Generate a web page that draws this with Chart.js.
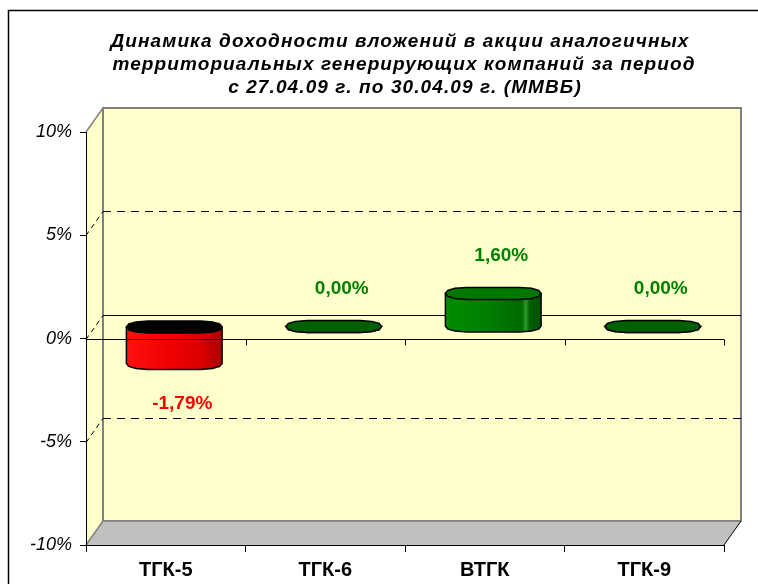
<!DOCTYPE html>
<html><head><meta charset="utf-8">
<script src="https://cdn.jsdelivr.net/npm/chart.js@4"></script>
<style>html,body{margin:0;padding:0;background:#fff}canvas{display:block}</style>
</head><body>
<canvas id="c" width="758" height="584"></canvas>
<script>
const titleLines = ['Динамика доходности вложений в акции аналогичных','территориальных генерирующих компаний за период','с 27.04.09 г. по 30.04.09 г. (ММВБ)'];
const categories = ['ТГК-5','ТГК-6','ВТГК','ТГК-9'];
const returns = [-1.79, 0.00, 1.60, 0.00];
const valueLabels = ['-1,79%','0,00%','1,60%','0,00%'];
const yTicks = [-10, -5, 0, 5, 10];
const yTickLabels = ['-10%','-5%','0%','5%','10%'];

const DX = 17, DY = 24;
const CAP = [[-1,0],[-0.95,-0.5],[-0.8,-0.85],[-0.55,-1],[0.55,-1],[0.8,-0.85],[0.95,-0.5],[1,0],[0.95,0.5],[0.8,0.85],[0.55,1],[-0.55,1],[-0.8,0.85],[-0.95,0.5]];
const LOWER = [[-1,0],[-0.95,0.5],[-0.8,0.85],[-0.55,1],[0.55,1],[0.8,0.85],[0.95,0.5],[1,0]];
const RY = 6;

function poly(ctx, pts){ctx.beginPath();pts.forEach((p,i)=>i?ctx.lineTo(p[0],p[1]):ctx.moveTo(p[0],p[1]));ctx.closePath();}

const walls = {
  id: 'walls',
  beforeDraw(chart){
    const {ctx, chartArea:a, scales:{y}} = chart;
    ctx.save();
    // outer frame
    ctx.strokeStyle = '#000'; ctx.lineWidth = 1.5;
    ctx.beginPath(); ctx.moveTo(8.5, 584); ctx.lineTo(8.5, 10.5); ctx.lineTo(758, 10.5); ctx.stroke();
    // title
    ctx.fillStyle = '#000';
    ctx.font = 'italic bold 19px Arial';
    ctx.textAlign = 'center'; ctx.textBaseline = 'alphabetic';
    try { ctx.letterSpacing = '1.1px'; } catch(e) {}
    const tb = [47, 70, 93], tx = [400, 404, 405];
    titleLines.forEach((t,i)=>ctx.fillText(t, tx[i], tb[i]));
    try { ctx.letterSpacing = '0px'; } catch(e) {}
    // side wall
    ctx.fillStyle = '#FFFFCC';
    poly(ctx, [[a.left,a.top],[a.left+DX,a.top-DY],[a.left+DX,a.bottom-DY],[a.left,a.bottom]]);
    ctx.fill();
    ctx.strokeStyle = '#808080'; ctx.lineWidth = 1.5;
    ctx.beginPath(); ctx.moveTo(a.left, a.top); ctx.lineTo(a.left+DX, a.top-DY); ctx.stroke();
    // back wall
    ctx.fillStyle = '#FFFFCC';
    ctx.fillRect(a.left+DX, a.top-DY, a.right-a.left, a.bottom-a.top);
    ctx.strokeStyle = '#808080'; ctx.lineWidth = 2;
    ctx.strokeRect(a.left+DX, a.top-DY, a.right-a.left, a.bottom-a.top);
    // floor
    ctx.fillStyle = '#C0C0C0';
    poly(ctx, [[a.left,a.bottom],[a.left+DX,a.bottom-DY],[a.right+DX,a.bottom-DY],[a.right,a.bottom]]);
    ctx.fill();
    ctx.strokeStyle = '#808080'; ctx.lineWidth = 1.5;
    ctx.beginPath(); ctx.moveTo(a.left, a.bottom); ctx.lineTo(a.left+DX, a.bottom-DY); ctx.lineTo(a.right+DX, a.bottom-DY); ctx.stroke();
    ctx.strokeStyle = '#000'; ctx.lineWidth = 1;
    ctx.beginPath(); ctx.moveTo(a.right, a.bottom); ctx.lineTo(a.right+DX, a.bottom-DY); ctx.stroke();
    // gridlines
    yTicks.forEach(t=>{
      if (t === y.min || t === y.max) return;
      const py = Math.round(y.getPixelForValue(t)) + 0.5;
      ctx.strokeStyle = '#000'; ctx.lineWidth = 1;
      ctx.setLineDash([5,4]);
      ctx.beginPath(); ctx.moveTo(a.left, py); ctx.lineTo(a.left+DX, py-DY); ctx.stroke();
      ctx.setLineDash(t === 0 ? [] : [8,6]);
      ctx.beginPath(); ctx.moveTo(a.left+DX, py-DY); ctx.lineTo(a.right+DX, py-DY); ctx.stroke();
      ctx.setLineDash([]);
    });
    ctx.restore();
  },
  afterDatasetsDraw(chart){
    const {ctx, chartArea:a, scales:{x, y}} = chart;
    const meta = chart.getDatasetMeta(0);
    ctx.save();
    meta.data.forEach((bar, i)=>{
      const v = returns[i];
      const cx = bar.x + DX/2, rx = bar.width/2, L = cx - rx, R = cx + rx;
      const yv = bar.y - DY/2, yb = bar.base - DY/2;
      const top = Math.min(yv, yb), bot = Math.max(yv, yb);
      const neg = v < 0;
      const g = ctx.createLinearGradient(L, 0, R, 0);
      if (neg) {
        g.addColorStop(0, '#ff1010'); g.addColorStop(0.45, '#f00000'); g.addColorStop(0.8, '#d80000'); g.addColorStop(1, '#a80000');
      } else {
        g.addColorStop(0, '#008c00'); g.addColorStop(0.45, '#007e00'); g.addColorStop(0.8, '#006800'); g.addColorStop(0.84, '#2a9a2a'); g.addColorStop(0.88, '#006000'); g.addColorStop(1, '#005000');
      }
      // body
      ctx.beginPath();
      ctx.moveTo(L, top);
      LOWER.forEach(p=>ctx.lineTo(cx+p[0]*rx, bot+p[1]*RY));
      ctx.lineTo(R, top); ctx.closePath();
      ctx.fillStyle = g; ctx.fill();
      ctx.strokeStyle = '#000'; ctx.lineWidth = 1.5; ctx.stroke();
      // cap
      poly(ctx, CAP.map(p=>[cx+p[0]*rx, top+p[1]*RY]));
      ctx.fillStyle = neg ? '#000000' : (v === 0 ? '#005f00' : '#007800');
      ctx.fill(); ctx.stroke();
      // value label
      ctx.font = 'bold 19px Arial';
      ctx.textAlign = 'center'; ctx.textBaseline = 'middle';
      ctx.fillStyle = neg ? '#FF0000' : '#008000';
      ctx.fillText(valueLabels[i], cx + 8, neg ? bot + 40 : top - 38);
    });
    // front zero line with category ticks
    const y0 = Math.round(y.getPixelForValue(0)) + 0.5;
    ctx.strokeStyle = '#000'; ctx.lineWidth = 1;
    ctx.beginPath(); ctx.moveTo(a.left, y0); ctx.lineTo(a.right, y0);
    for (let k = 1; k <= categories.length; k++) {
      const px = Math.round(x.getPixelForValue(k - 0.5)) + 0.5;
      ctx.moveTo(px, y0); ctx.lineTo(px, y0 + 6);
    }
    ctx.stroke();
    ctx.restore();
  }
};

new Chart(document.getElementById('c'), {
  type: 'bar',
  data: { labels: categories, datasets: [{ data: returns, backgroundColor: 'rgba(0,0,0,0)', borderWidth: 0, barPercentage: 0.6, categoryPercentage: 1 }] },
  options: {
    responsive: false, animation: false, devicePixelRatio: 1,
    layout: { padding: { top: 132, right: 34, left: 0, bottom: 0 } },
    plugins: { legend: { display: false }, tooltip: { enabled: false }, title: { display: false } },
    scales: {
      x: {
        grid: { offset: true, drawOnChartArea: false, tickLength: 7, color: '#000' },
        border: { color: '#000', width: 1 },
        ticks: { font: { family: 'Arial', weight: 'bold', size: 20 }, color: '#000', padding: 6 },
        afterFit(s){ s.height = 39; }
      },
      y: {
        min: -10, max: 10,
        grid: { drawOnChartArea: false, tickLength: 6, color: '#000' },
        border: { color: '#000', width: 1 },
        ticks: { stepSize: 5, callback: v => yTickLabels[yTicks.indexOf(v)], font: { family: 'Arial', style: 'italic', size: 18 }, color: '#000', padding: 8 },
        afterFit(s){ s.width = 86; }
      }
    }
  },
  plugins: [walls]
});
</script>
</body></html>
